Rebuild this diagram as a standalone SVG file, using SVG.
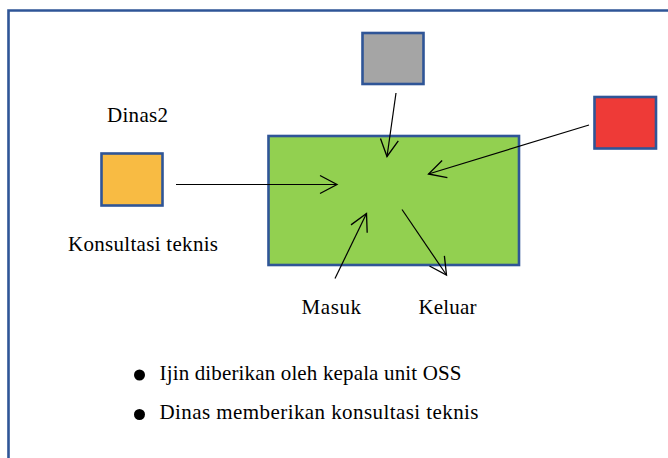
<svg xmlns="http://www.w3.org/2000/svg" width="668" height="458" viewBox="0 0 668 458">
  <style>
    .box { stroke: #2F5597; stroke-width: 2.6; }
    .lbl { font-family: "Liberation Serif", "Times New Roman", serif; font-size: 21px; fill: #000; }
    .edge { stroke: #000; stroke-width: 1.2; fill: none; marker-end: url(#open); }
  </style>
  <defs>
    <marker id="open" markerUnits="userSpaceOnUse" markerWidth="24" markerHeight="24" viewBox="-20 -12 24 24" refX="0" refY="0" orient="auto">
      <path d="M-17,-9 L0,0 L-17,9" fill="none" stroke="#000" stroke-width="1.3"/>
    </marker>
  </defs>

  <rect width="668" height="458" fill="#fff"/>

  <!-- slide frame (open to the right and bottom) -->
  <path d="M8.5,470 L8.5,10.5 L680,10.5" fill="none" stroke="#2F5597" stroke-width="2.6"/>

  <g id="oss">
    <rect class="box" x="268.5" y="136" width="250.5" height="129" fill="#92D050"/>
  </g>
  <g id="dinas2">
    <rect class="box" x="101.5" y="153.5" width="61" height="52" fill="#F8BB43"/>
    <text class="lbl" x="107" y="121.5" textLength="61">Dinas2</text>
    <text class="lbl" x="68" y="251" textLength="150">Konsultasi teknis</text>
  </g>
  <g id="gray">
    <rect class="box" x="362.5" y="33" width="61" height="51" fill="#A5A5A5"/>
  </g>
  <g id="red">
    <rect class="box" x="594.5" y="97" width="61.5" height="51.5" fill="#EE3A37"/>
  </g>

  <g id="connectors">
    <line class="edge" x1="176" y1="184.5" x2="337" y2="184.5"/>
    <line class="edge" x1="396" y1="93" x2="387" y2="156.5"/>
    <line class="edge" x1="589" y1="125" x2="428.5" y2="174"/>
    <line class="edge" x1="335" y1="278.5" x2="366.5" y2="213.5"/>
    <line class="edge" x1="402" y1="209.5" x2="446.5" y2="275"/>
  </g>

  <g id="flow-labels">
    <text class="lbl" x="301.5" y="314" textLength="59.5">Masuk</text>
    <text class="lbl" x="418.5" y="314" textLength="58">Keluar</text>
  </g>

  <g id="notes">
    <circle cx="139.5" cy="375" r="5.5" fill="#000"/>
    <text class="lbl" x="159.5" y="379.5" textLength="302">Ijin diberikan oleh kepala unit OSS</text>
    <circle cx="139.5" cy="414.5" r="5.5" fill="#000"/>
    <text class="lbl" x="159.5" y="418.5" textLength="319">Dinas memberikan konsultasi teknis</text>
  </g>
</svg>
